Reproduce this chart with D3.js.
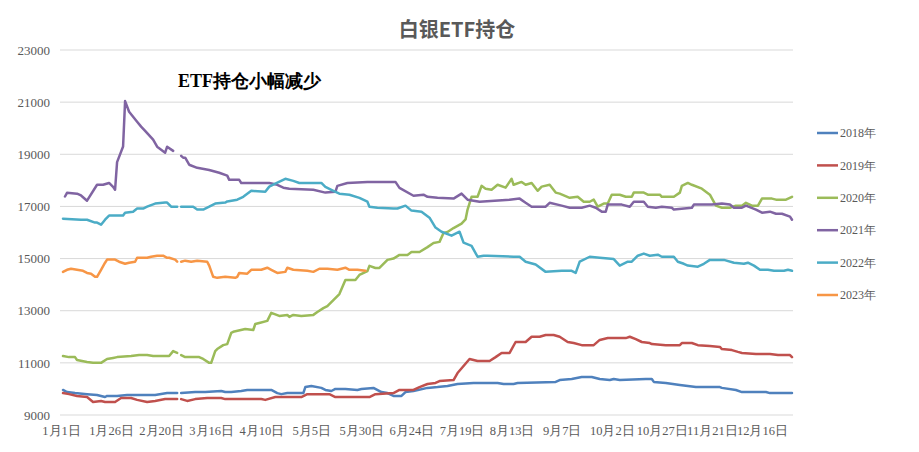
<!DOCTYPE html>
<html><head><meta charset="utf-8">
<script src="https://cdn.jsdelivr.net/npm/d3@7"></script>
<style>body{margin:0;background:#fff}svg{display:block}</style>
</head><body>
<svg id="c" width="919" height="452"></svg>
<script>
// ---- data: [day index (Jan 1 = 0, leap-year calendar), value]; null = no data (Feb 29)
const seriesNames = ["2018年","2019年","2020年","2021年","2022年","2023年"];
const colors = ["#4F81BD","#C0504D","#9BBB59","#8064A2","#4BACC6","#F79646"];
const yTicks = [9000,11000,13000,15000,17000,19000,21000,23000];

const s2018 = [[1,9960],[3,9880],[7,9840],[13,9800],[18,9770],[22,9690],[23,9730],[28,9730],[33,9770],[40,9770],[47,9770],[53,9840],[58,9840],[59,null],[60,9840],[67,9880],[72,9880],[80,9920],[82,9880],[85,9880],[90,9920],[93,9960],[105,9960],[108,9840],[110,9800],[113,9840],[121,9840],[122,10070],[125,10110],[130,10040],[132,9960],[135,9920],[137,10000],[142,10000],[148,9960],[150,10000],[156,10040],[160,9880],[163,9840],[166,9730],[170,9730],[172,9880],[176,9920],[183,10040],[188,10070],[193,10110],[198,10190],[206,10230],[213,10230],[218,10230],[221,10190],[226,10190],[228,10230],[247,10270],[249,10340],[255,10380],[260,10460],[265,10460],[269,10380],[274,10340],[276,10380],[279,10340],[292,10380],[295,10380],[296,10270],[302,10230],[309,10150],[317,10070],[329,10070],[330,10040],[337,9960],[340,9880],[352,9880],[354,9840],[365,9840]];

const s2019 = [[1,9840],[4,9800],[8,9730],[13,9690],[16,9500],[20,9540],[22,9500],[27,9500],[30,9650],[35,9650],[38,9580],[43,9500],[47,9540],[52,9610],[58,9610],[59,null],[60,9610],[63,9540],[67,9610],[73,9650],[80,9650],[82,9610],[100,9610],[102,9580],[107,9690],[120,9690],[123,9800],[134,9800],[137,9690],[154,9690],[157,9800],[166,9840],[169,9960],[176,9960],[179,10070],[183,10190],[187,10230],[189,10300],[196,10340],[198,10610],[204,11150],[208,11070],[214,11070],[217,11220],[220,11380],[224,11380],[227,11800],[232,11800],[235,12000],[239,12000],[242,12070],[246,12070],[249,12000],[253,11800],[256,11760],[260,11680],[266,11680],[269,11880],[273,11950],[282,11950],[284,12000],[287,11910],[290,11800],[294,11760],[295,11720],[302,11680],[309,11680],[310,11760],[315,11760],[318,11680],[324,11650],[329,11610],[330,11530],[335,11490],[338,11420],[340,11380],[347,11340],[354,11340],[358,11300],[364,11300],[365,11220]];

const s2020 = [[1,11260],[4,11220],[7,11220],[8,11110],[13,11030],[16,11000],[20,11000],[23,11150],[26,11190],[28,11220],[35,11260],[39,11300],[43,11300],[46,11260],[54,11260],[56,11450],[58,11380],[59,null],[60,11300],[62,11220],[69,11220],[71,11150],[74,11000],[75,11000],[77,11450],[78,11530],[81,11680],[83,11720],[85,12150],[86,12190],[92,12300],[96,12260],[97,12490],[99,12530],[103,12610],[105,12920],[109,12800],[113,12840],[114,12760],[116,12840],[120,12800],[126,12840],[128,12950],[131,13100],[133,13180],[136,13410],[139,13640],[142,14180],[147,14180],[149,14370],[153,14520],[154,14720],[157,14640],[159,14640],[163,14950],[166,15000],[169,15140],[173,15140],[175,15250],[179,15250],[183,15440],[186,15600],[189,15640],[191,15980],[193,16020],[196,16170],[200,16340],[202,16500],[203,16880],[205,17370],[208,17370],[210,17790],[212,17680],[215,17640],[218,17830],[222,17720],[225,18060],[226,17830],[230,17940],[232,17830],[235,17900],[238,17600],[240,17760],[244,17830],[247,17530],[249,17490],[254,17330],[258,17370],[261,17180],[264,17180],[266,17260],[268,16990],[271,17110],[273,17110],[275,17450],[279,17450],[282,17370],[285,17370],[286,17530],[291,17530],[293,17450],[299,17450],[300,17370],[306,17370],[309,17530],[310,17790],[313,17900],[315,17830],[320,17680],[324,17450],[327,17030],[330,16950],[334,16950],[337,17030],[340,17030],[342,17140],[345,17030],[348,17030],[350,17300],[355,17300],[357,17260],[362,17260],[365,17370]];

const s2021 = [[2,17380],[3,17520],[8,17490],[10,17420],[13,17220],[18,17830],[21,17830],[24,17900],[26,17750],[27,17640],[28,18700],[31,19300],[32,21040],[34,20630],[38,20250],[40,20060],[42,19900],[46,19560],[48,19290],[52,19060],[53,19290],[56,19130],[59,null],[60,18940],[61,18870],[62,18870],[64,18600],[68,18480],[74,18400],[79,18290],[83,18180],[84,18020],[89,18020],[90,17900],[104,17900],[108,17830],[111,17720],[114,17680],[126,17640],[132,17530],[137,17560],[138,17790],[143,17900],[153,17940],[163,17940],[167,17940],[169,17710],[176,17410],[181,17450],[183,17370],[188,17330],[196,17300],[200,17490],[203,17260],[209,17180],[224,17260],[229,17300],[232,17140],[235,16990],[242,16990],[244,17140],[250,17030],[254,16950],[260,16950],[264,17030],[267,16950],[270,16800],[272,16800],[273,17070],[280,17070],[284,16990],[286,17180],[291,17180],[293,16990],[297,16950],[300,16990],[305,16950],[306,16880],[315,16950],[316,17070],[325,17070],[330,17110],[334,17070],[336,16950],[340,16950],[342,17030],[347,16880],[350,16760],[354,16800],[357,16720],[360,16720],[364,16610],[365,16490]];

const s2022 = [[1,16530],[10,16490],[13,16490],[17,16380],[18,16380],[20,16300],[22,16490],[24,16650],[31,16650],[32,16760],[36,16800],[38,16920],[41,16920],[43,16990],[47,17110],[52,17150],[53,17150],[55,16990],[58,16990],[59,null],[60,16990],[66,16990],[68,16880],[71,16880],[74,16990],[77,17110],[82,17150],[83,17190],[88,17260],[91,17370],[95,17600],[102,17560],[104,17760],[107,17870],[112,18060],[116,17980],[119,17900],[130,17900],[132,17750],[136,17600],[139,17490],[144,17450],[149,17330],[153,17180],[154,16990],[158,16950],[166,16920],[168,16920],[172,17030],[175,16840],[180,16800],[184,16570],[187,16190],[190,16030],[195,15880],[199,16030],[201,15610],[205,15490],[208,15070],[211,15110],[213,15110],[226,15070],[229,15070],[232,14880],[237,14770],[242,14490],[250,14530],[255,14530],[257,14450],[259,14880],[264,15070],[269,15030],[276,14980],[279,14730],[283,14880],[285,14880],[288,15110],[291,15190],[294,15110],[298,15150],[300,15070],[306,15070],[308,14880],[311,14800],[313,14730],[318,14690],[321,14800],[324,14950],[331,14950],[336,14840],[341,14800],[343,14840],[346,14730],[349,14570],[353,14570],[356,14530],[361,14530],[363,14570],[365,14530]];

const s2023 = [[1,14490],[3,14570],[5,14610],[8,14570],[11,14530],[13,14450],[15,14420],[17,14300],[18,14300],[20,14570],[22,14840],[23,14960],[27,14960],[29,14880],[32,14800],[34,14840],[37,14880],[38,15030],[43,15030],[45,15070],[48,15110],[51,15110],[53,15030],[54,15030],[57,14960],[58,14880],[59,null],[60,14880],[62,14920],[65,14880],[68,14920],[73,14880],[74,14730],[76,14300],[78,14260],[82,14300],[87,14260],[88,14300],[89,14450],[93,14420],[95,14570],[100,14570],[103,14650],[105,14570],[108,14450],[112,14490],[113,14650],[116,14570],[123,14530],[126,14490],[129,14610],[133,14610],[138,14570],[142,14650],[144,14570],[148,14570],[152,14530]];

const allSeries = [s2018, s2019, s2020, s2021, s2022, s2023];

// categories: every day of a leap-year calendar
const days = d3.timeDay.range(new Date(2020,0,1), new Date(2021,0,1));
const dayLabels = days.map(d => `${d.getMonth()+1}月${d.getDate()}日`);

const svg = d3.select("#c");
const L = 60, R = 793, T = 50, B = 415;
const x = d3.scalePoint().domain(d3.range(dayLabels.length)).range([L, R]).padding(0.5);
const y = d3.scaleLinear().domain([9000, 23000]).range([B, T]);

const serif = "'Liberation Serif','DejaVu Serif',serif";

// gridlines
svg.append("g").selectAll("line").data(yTicks).join("line")
  .attr("x1", L).attr("x2", R).attr("y1", d => y(d)).attr("y2", d => y(d))
  .attr("stroke", "#d9d9d9").attr("stroke-width", 1);

// y axis labels
const yAxis = d3.axisLeft(y).tickValues(yTicks).tickSize(0).tickPadding(10).tickFormat(d3.format("d"));
const gy = svg.append("g").attr("transform", `translate(${L},0)`).call(yAxis);
gy.select(".domain").remove();
gy.selectAll("text").attr("font-family", serif).attr("font-size", 13).attr("fill", "#595959");

// x axis labels every 25 days
const xTickIdx = d3.range(0, dayLabels.length, 25);
const xAxis = d3.axisBottom(x).tickValues(xTickIdx).tickSize(0).tickPadding(11).tickFormat(i => dayLabels[i]);
const gx = svg.append("g").attr("transform", `translate(0,${B})`).call(xAxis);
gx.select(".domain").remove();
gx.selectAll("text").attr("font-family", serif).attr("font-size", 12.5).attr("fill", "#595959");

// lines
const line = d3.line().defined(p => p[1] != null).x(p => x(p[0])).y(p => y(p[1]));
svg.append("g").selectAll("path").data(allSeries).join("path")
  .attr("d", line).attr("fill", "none")
  .attr("stroke", (d, i) => colors[i]).attr("stroke-width", 2.5)
  .attr("stroke-linejoin", "round").attr("stroke-linecap", "round");

// title
svg.append("text").attr("x", 457).attr("y", 37).attr("text-anchor", "middle")
  .attr("font-family", "'Noto Sans CJK SC','Noto Sans',sans-serif").attr("font-weight", "bold")
  .attr("font-size", 20).attr("fill", "#595959").text("白银ETF持仓");

// annotation
svg.append("text").attr("x", 178).attr("y", 87)
  .attr("font-family", serif).attr("font-weight", "bold")
  .attr("font-size", 18).attr("fill", "#000").text("ETF持仓小幅减少");

// legend
const lg = svg.append("g").selectAll("g").data(seriesNames).join("g")
  .attr("transform", (d, i) => `translate(817,${133 + i * 32.4})`);
lg.append("line").attr("x1", 0).attr("x2", 21).attr("y1", 0).attr("y2", 0)
  .attr("stroke", (d, i) => colors[i]).attr("stroke-width", 2.5);
lg.append("text").attr("x", 23).attr("y", 0).attr("dy", "0.35em")
  .attr("font-family", serif).attr("font-size", 12).attr("fill", "#595959").text(d => d);
</script>
</body></html>
